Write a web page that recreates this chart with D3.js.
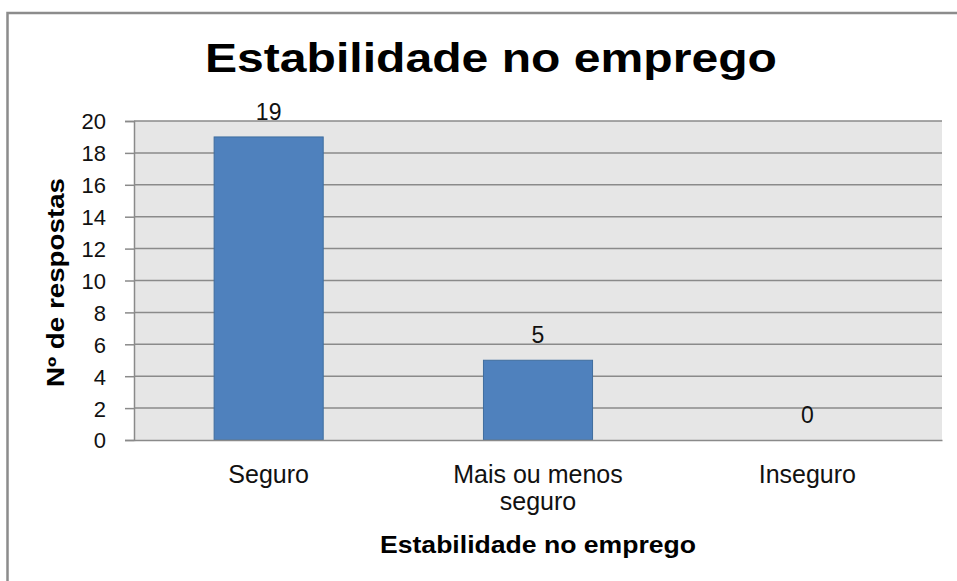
<!DOCTYPE html>
<html>
<head>
<meta charset="utf-8">
<script src="https://cdn.jsdelivr.net/npm/d3@7"></script>
<style>
  html, body { margin: 0; padding: 0; background: #ffffff; }
  svg { display: block; font-family: "Liberation Sans", Arial, sans-serif; }
</style>
</head>
<body>
<svg id="chart" width="957" height="581"></svg>
<script>
// Chart data
const categories = ["Seguro", "Mais ou menos\nseguro", "Inseguro"];
const respostas = [19, 5, 0];
const yTicks = [0, 2, 4, 6, 8, 10, 12, 14, 16, 18, 20];
const chartTitle = "Estabilidade no emprego";
const xTitle = "Estabilidade no emprego";
const yTitle = "Nº de respostas";

const W = 957, H = 581;
const plot = { left: 134, top: 121, right: 942, bottom: 440 };

const svg = d3.select("#chart");

// Outer chart frame
svg.append("rect")
  .attr("x", 7.5).attr("y", 13)
  .attr("width", 1000).attr("height", 700)
  .attr("fill", "#ffffff")
  .attr("stroke", "#8c8c8c")
  .attr("stroke-width", 2.5);

const x = d3.scaleBand()
  .domain(categories)
  .range([plot.left, plot.right])
  .paddingInner(0.595)
  .paddingOuter(0.2975);

const y = d3.scaleLinear()
  .domain([0, 20])
  .range([plot.bottom, plot.top]);

// Plot area background
svg.append("rect")
  .attr("x", plot.left).attr("y", plot.top)
  .attr("width", plot.right - plot.left)
  .attr("height", plot.bottom - plot.top)
  .attr("fill", "#e6e6e6");

// Horizontal gridlines
svg.append("g")
  .selectAll("line")
  .data(yTicks.filter(d => d > 0))
  .join("line")
  .attr("x1", plot.left).attr("x2", plot.right)
  .attr("y1", d => y(d)).attr("y2", d => y(d))
  .attr("stroke", "#8a8a8a")
  .attr("stroke-width", 1.5);

// Bars
svg.append("g")
  .selectAll("rect")
  .data(respostas)
  .join("rect")
  .attr("x", (d, i) => x(categories[i]))
  .attr("y", d => y(d))
  .attr("width", x.bandwidth())
  .attr("height", d => y(0) - y(d))
  .attr("fill", "#4f81bd")
  .attr("stroke", "#3f6d9f")
  .attr("stroke-width", d => d > 0 ? 1 : 0);

// Value labels
svg.append("g")
  .selectAll("text")
  .data(respostas)
  .join("text")
  .attr("x", (d, i) => x(categories[i]) + x.bandwidth() / 2)
  .attr("y", d => y(d) - 17)
  .attr("text-anchor", "middle")
  .attr("font-size", 23)
  .attr("fill", "#111")
  .text(d => d);

// Y axis
const yAxis = svg.append("g")
  .attr("transform", `translate(${plot.left},0)`)
  .call(d3.axisLeft(y).tickValues(yTicks).tickSize(9).tickPadding(19));
yAxis.select(".domain").attr("stroke", "#8a8a8a").attr("stroke-width", 1.5);
yAxis.selectAll(".tick line").attr("stroke", "#8a8a8a").attr("stroke-width", 1.5);
yAxis.selectAll(".tick text")
  .attr("font-size", 22)
  .attr("font-family", "Liberation Sans, Arial, sans-serif")
  .attr("fill", "#111")
  .attr("dy", "0.36em");

// X axis
const xAxis = svg.append("g")
  .attr("transform", `translate(0,${plot.bottom})`)
  .call(d3.axisBottom(x).tickSize(0).tickFormat(""));
xAxis.select(".domain").attr("stroke", "#8a8a8a").attr("stroke-width", 1.5);

// Category labels (multi-line)
xAxis.selectAll(".tick").each(function(d) {
  const t = d3.select(this).append("text")
    .attr("text-anchor", "middle")
    .attr("font-size", 25)
    .attr("font-family", "Liberation Sans, Arial, sans-serif")
    .attr("fill", "#111");
  d.split("\n").forEach((line, i) => {
    t.append("tspan").attr("x", 0).attr("y", 43 + i * 27).text(line);
  });
});

// Chart title
svg.append("text")
  .attr("x", 491).attr("y", 72)
  .attr("text-anchor", "middle")
  .attr("font-size", 41)
  .attr("font-weight", "bold")
  .attr("textLength", 572)
  .attr("lengthAdjust", "spacingAndGlyphs")
  .attr("fill", "#000")
  .text(chartTitle);

// X axis title
svg.append("text")
  .attr("x", (plot.left + plot.right) / 2).attr("y", 553)
  .attr("text-anchor", "middle")
  .attr("font-size", 24)
  .attr("font-weight", "bold")
  .attr("textLength", 316)
  .attr("lengthAdjust", "spacingAndGlyphs")
  .attr("fill", "#000")
  .text(xTitle);

// Y axis title
svg.append("text")
  .attr("transform", `translate(64,${(plot.top + plot.bottom) / 2 + 2}) rotate(-90)`)
  .attr("text-anchor", "middle")
  .attr("font-size", 23)
  .attr("font-weight", "bold")
  .attr("textLength", 209)
  .attr("lengthAdjust", "spacingAndGlyphs")
  .attr("fill", "#000")
  .text(yTitle);
</script>
</body>
</html>
